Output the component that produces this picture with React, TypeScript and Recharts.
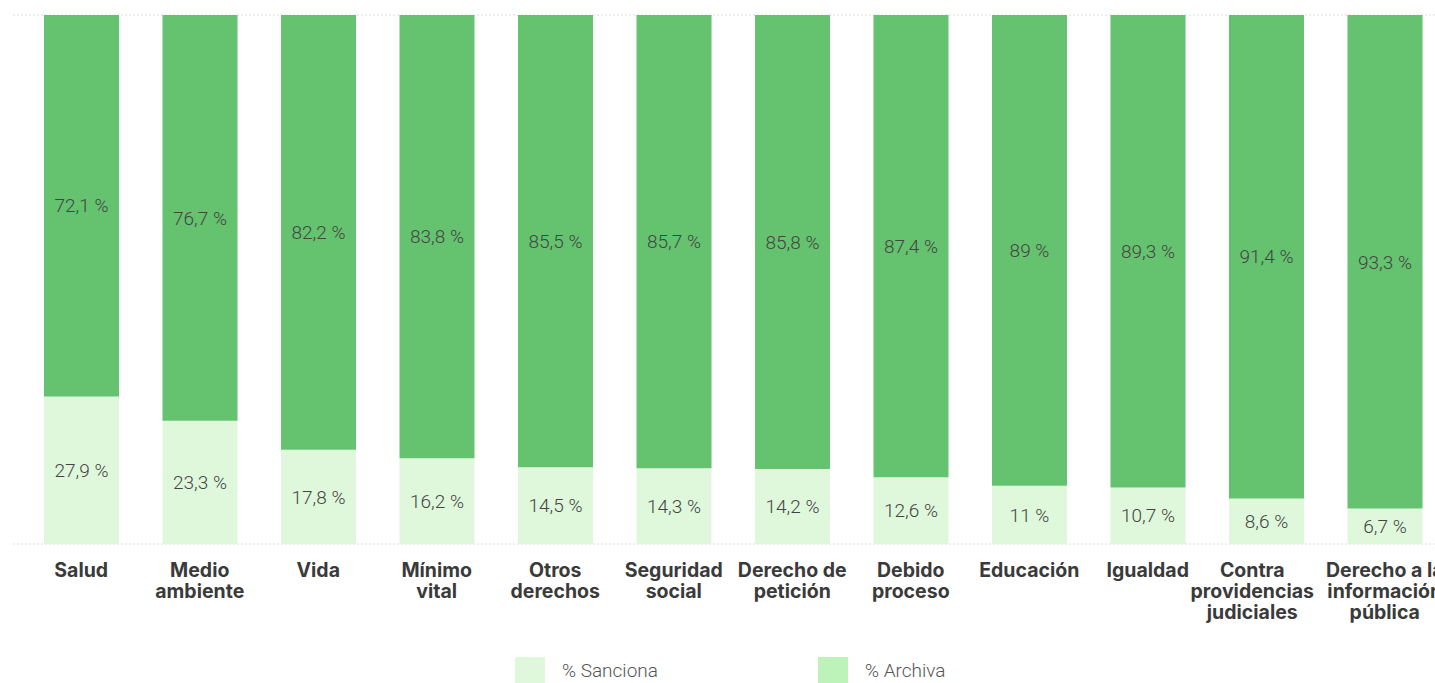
import { BarChart, Bar, XAxis, YAxis, CartesianGrid, LabelList, Legend } from 'recharts'

const categories = [
	'Salud',
	'Medio ambiente',
	'Vida',
	'Mínimo vital',
	'Otros derechos',
	'Seguridad social',
	'Derecho de petición',
	'Debido proceso',
	'Educación',
	'Igualdad',
	'Contra providencias judiciales',
	'Derecho a la información pública',
]
// line breaks of the tick labels as they appear in the picture
const tickLines = [
	['Salud'],
	['Medio', 'ambiente'],
	['Vida'],
	['Mínimo', 'vital'],
	['Otros', 'derechos'],
	['Seguridad', 'social'],
	['Derecho de', 'petición'],
	['Debido', 'proceso'],
	['Educación'],
	['Igualdad'],
	['Contra', 'providencias', 'judiciales'],
	['Derecho a la', 'información', 'pública'],
]
const sanciona = [27.9, 23.3, 17.8, 16.2, 14.5, 14.3, 14.2, 12.6, 11, 10.7, 8.6, 6.7]
const archiva = [72.1, 76.7, 82.2, 83.8, 85.5, 85.7, 85.8, 87.4, 89, 89.3, 91.4, 93.3]
const legendNames = ['% Sanciona', '% Archiva']

const LIGHT = '#dff8db'
const DARK = '#65c26e'
const LEGEND_DARK = '#bdf2b8'

const data = categories.map((name, i) => ({
	name,
	sanciona: sanciona[i],
	archiva: archiva[i],
}))

const fmt = (v: any) => `${String(v).replace('.', ',')} %`

const Tick = (props: any) => {
	const { x, y, payload } = props
	const idx = categories.indexOf(payload.value)
	const lines = tickLines[idx] || [payload.value]
	// the long "providencias" label sits a bit left of its bar in the original
	const cx = idx === 10 ? x - 14 : x
	return (
		<text
			x={cx}
			y={y + 11}
			textAnchor='middle'
			style={{ fontFamily: 'Inter', fontWeight: 700, fontSize: 19.5, fill: '#3a3a3a' }}
		>
			{lines.map((l, i) => (
				<tspan key={i} x={cx} dy={i === 0 ? '0.71em' : 21}>
					{l}
				</tspan>
			))}
		</text>
	)
}

const LegendBox = () => (
	<div style={{ display: 'flex', fontFamily: 'Roboto', fontWeight: 300, fontSize: 19, color: '#555' }}>
		{legendNames.map((n, i) => (
			<div key={n} style={{ display: 'flex', alignItems: 'center', width: 303 }}>
				<div style={{ width: 30, height: 26, background: i === 0 ? LIGHT : LEGEND_DARK, marginRight: 17 }} />
				<span>{n}</span>
			</div>
		))}
	</div>
)

export default function App() {
	return (
		<div style={{ position: 'absolute', left: 0, top: 0, width: 1435, height: 683, overflow: 'hidden' }}>
			<BarChart
				width={1444}
				height={683}
				data={data}
				margin={{ top: 15, right: 0, left: 13, bottom: 0 }}
				barSize={75}
			>
				<CartesianGrid vertical={false} strokeDasharray='2 2' stroke='#ddd' />
				<YAxis hide domain={[0, 100]} ticks={[0, 100]} />
				<XAxis
					dataKey='name'
					axisLine={false}
					tickLine={false}
					interval={0}
					height={113}
					padding={{ left: 9, right: 0 }}
					tick={<Tick />}
				/>
				<Legend
					content={<LegendBox />}
					wrapperStyle={{ position: 'absolute', left: 515, top: 657, width: 700 }}
				/>
				<Bar dataKey='sanciona' stackId='a' fill={LIGHT} name={legendNames[0]} isAnimationActive={false}>
					<LabelList
						dataKey='sanciona'
						position='center'
						formatter={fmt}
						style={{ fontFamily: 'Roboto', fontWeight: 300, fontSize: 19, fill: '#444' }}
					/>
				</Bar>
				<Bar dataKey='archiva' stackId='a' fill={DARK} name={legendNames[1]} isAnimationActive={false}>
					<LabelList
						dataKey='archiva'
						position='center'
						formatter={fmt}
						style={{ fontFamily: 'Roboto', fontWeight: 300, fontSize: 19, fill: '#444' }}
					/>
				</Bar>
			</BarChart>
		</div>
	)
}
